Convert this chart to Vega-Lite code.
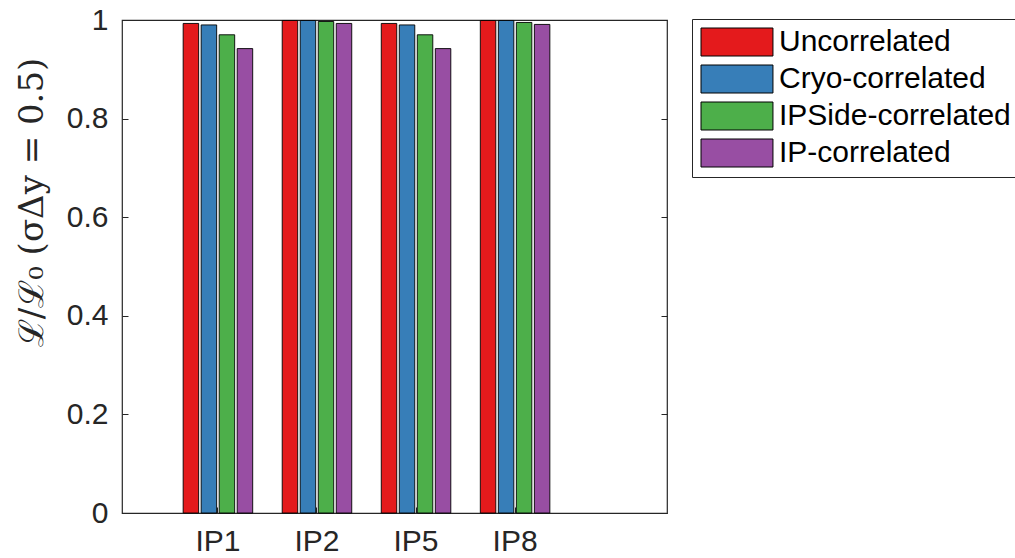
{
  "$schema": "https://vega.github.io/schema/vega-lite/v6.json",
  "width": 545,
  "height": 493,
  "autosize": {"type": "none"},
  "padding": {"left": 122, "top": 20, "right": 348, "bottom": 45},
  "background": "white",
  "config": {
    "view": {"stroke": "#262626", "strokeWidth": 1.2},
    "font": "Liberation Sans",
    "axis": {"grid": false, "domain": false}
  },
  "data": {
    "values": [
      {"ip": "IP1", "scenario": "Uncorrelated", "value": 0.993},
      {"ip": "IP1", "scenario": "Cryo-correlated", "value": 0.990},
      {"ip": "IP1", "scenario": "IPSide-correlated", "value": 0.970},
      {"ip": "IP1", "scenario": "IP-correlated", "value": 0.942},
      {"ip": "IP2", "scenario": "Uncorrelated", "value": 0.999},
      {"ip": "IP2", "scenario": "Cryo-correlated", "value": 0.999},
      {"ip": "IP2", "scenario": "IPSide-correlated", "value": 0.997},
      {"ip": "IP2", "scenario": "IP-correlated", "value": 0.993},
      {"ip": "IP5", "scenario": "Uncorrelated", "value": 0.993},
      {"ip": "IP5", "scenario": "Cryo-correlated", "value": 0.990},
      {"ip": "IP5", "scenario": "IPSide-correlated", "value": 0.970},
      {"ip": "IP5", "scenario": "IP-correlated", "value": 0.942},
      {"ip": "IP8", "scenario": "Uncorrelated", "value": 0.999},
      {"ip": "IP8", "scenario": "Cryo-correlated", "value": 0.999},
      {"ip": "IP8", "scenario": "IPSide-correlated", "value": 0.995},
      {"ip": "IP8", "scenario": "IP-correlated", "value": 0.991}
    ]
  },
  "encoding": {
    "x": {
      "field": "ip",
      "type": "nominal",
      "sort": ["IP1", "IP2", "IP5", "IP8"],
      "scale": {"paddingInner": 0.298, "paddingOuter": 0.9, "align": 0.343},
      "axis": {
        "title": null,
        "labelAngle": 0,
        "labelFontSize": 30,
        "labelColor": "#262626",
        "tickColor": "#262626",
        "tickSize": -6,
        "labelPadding": 19
      }
    },
    "xOffset": {
      "field": "scenario",
      "type": "nominal",
      "sort": ["Uncorrelated", "Cryo-correlated", "IPSide-correlated", "IP-correlated"],
      "scale": {"paddingInner": 0.14, "paddingOuter": 0}
    },
    "y": {
      "field": "value",
      "type": "quantitative",
      "scale": {"domain": [0, 1], "nice": false}
    }
  },
  "layer": [
    {
      "mark": {"type": "bar", "stroke": "#000000", "strokeWidth": 0.9},
      "encoding": {
        "y": {
          "field": "value",
          "type": "quantitative",
          "scale": {"domain": [0, 1], "nice": false},
          "axis": {
            "orient": "left",
            "values": [0, 0.2, 0.4, 0.6, 0.8, 1],
            "format": ".1~f",
            "labelFontSize": 30,
            "labelColor": "#262626",
            "tickColor": "#262626",
            "tickSize": -6,
            "labelPadding": 20,
            "title": "ℒ/ℒ₀    (σΔy = 0.5)",
            "titleFont": "DejaVu Serif",
            "titleFontStyle": "normal",
            "titleFontWeight": "normal",
            "titleFontSize": 34,
            "titleColor": "#262626",
            "titleAngle": -90,
            "titleAlign": "center",
            "titleBaseline": "middle",
            "titleX": -90,
            "titleY": 182
          }
        },
        "color": {
          "field": "scenario",
          "type": "nominal",
          "sort": ["Uncorrelated", "Cryo-correlated", "IPSide-correlated", "IP-correlated"],
          "scale": {
            "domain": ["Uncorrelated", "Cryo-correlated", "IPSide-correlated", "IP-correlated"],
            "range": ["#E41A1C", "#377EB8", "#4DAF4A", "#984EA3"]
          },
          "legend": {
            "title": null,
            "orient": "none",
            "legendX": 570,
            "legendY": -1,
            "padding": 8,
            "fillColor": "white",
            "strokeColor": "#262626",
            "symbolType": "M-1,-1H4.14V1H-1Z",
            "symbolSize": 784,
            "symbolStrokeColor": "#000000",
            "symbolStrokeWidth": 1,
            "symbolOpacity": 1,
            "labelFontSize": 30,
            "labelColor": "#000000",
            "labelOffset": 49,
            "labelLimit": 400,
            "rowPadding": 5
          }
        }
      }
    },
    {
      "mark": {"type": "bar", "opacity": 0},
      "encoding": {
        "y": {
          "field": "value",
          "type": "quantitative",
          "scale": {"domain": [0, 1], "nice": false},
          "axis": {
            "orient": "right",
            "values": [0, 0.2, 0.4, 0.6, 0.8, 1],
            "labels": false,
            "title": null,
            "tickColor": "#262626",
            "tickSize": -6
          }
        }
      }
    }
  ],
  "resolve": {"axis": {"y": "independent"}}
}
